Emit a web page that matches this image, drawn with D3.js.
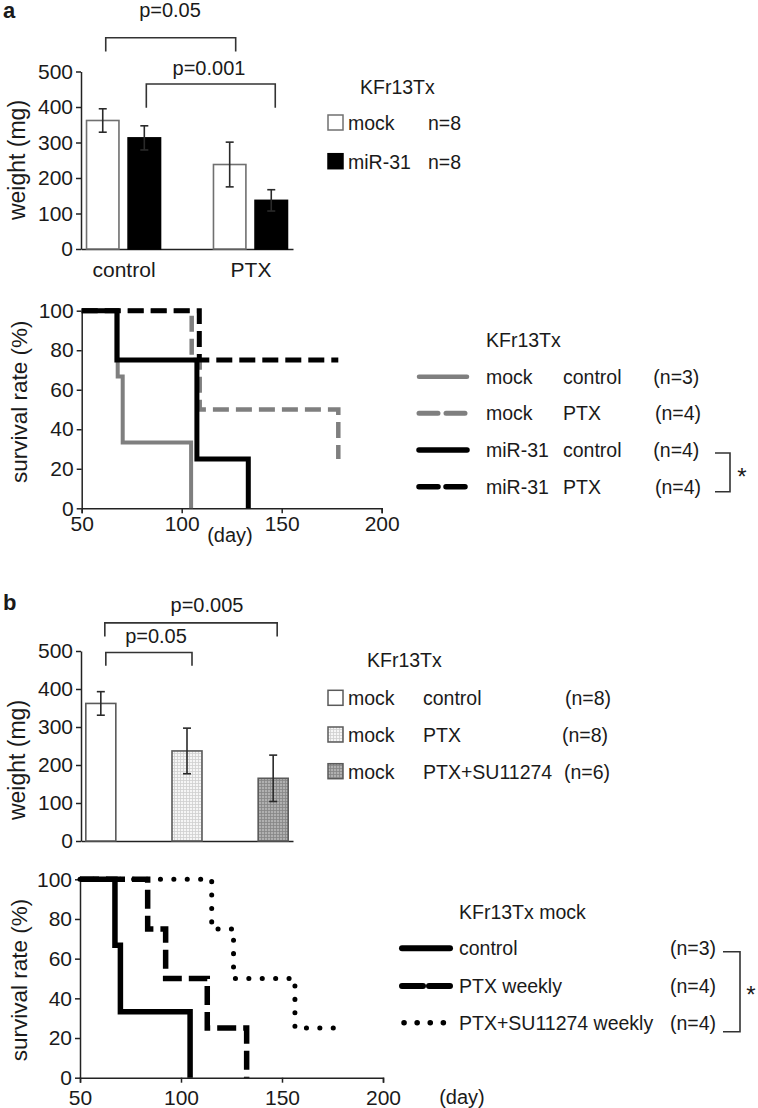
<!DOCTYPE html>
<html lang="en">
<head>
  <meta charset="UTF-8">
  <title>KFr13Tx weight and survival</title>
  <script src="https://cdnjs.cloudflare.com/ajax/libs/d3/7.8.5/d3.min.js"></script>
  <style>
    body { margin: 0; background: #fff; }
    svg text { font-family: "Liberation Sans", Arial, sans-serif; fill: #1a1a1a; }
    .axis path, .axis line { stroke: #222; stroke-width: 1.5; }
    .axis text { font-size: 21px; }
  </style>
</head>
<body>
  <div id="chart"></div>

  <script>
    // ---- data ----
    const weightTicks = [0, 100, 200, 300, 400, 500];
    const survivalTicks = [0, 20, 40, 60, 80, 100];
    const dayTicks = [50, 100, 150, 200];

    // panel a, tumour weight
    const aGroups = ["control", "PTX"];
    const aSeries = ["mock", "miR-31"];
    const aMock = [362, 238];
    const aMockErr = [33, 63];
    const aMir = [313, 137];
    const aMirErr = [34, 30];

    // panel a, survival (day, %)
    const aMockControl = [[50, 100], [68, 66.7], [70.5, 33.3], [104.7, 0]];
    const aMockPTX = [[50, 100], [105, 75], [109, 50], [178.3, 25]];
    const aMirControl = [[50, 100], [67.6, 75], [107.6, 25], [133.3, 0]];
    const aMirPTX = [[50, 100], [108.8, 75], [178.3, 75]];

    // panel b, tumour weight
    const bGroups = ["control", "PTX", "PTX+SU11274"];
    const bMeans = [362, 237, 165];
    const bErrs = [31, 60, 61];
    const bN = ["(n=8)", "(n=8)", "(n=6)"];

    // panel b, survival (day, %)
    const bControl = [[50, 100], [67.3, 66.7], [70, 33.3], [104.5, 0]];
    const bPTX = [[50, 100], [83.5, 75], [92.4, 50], [113, 25], [132.5, 0]];
    const bPTXSU = [[50, 100], [115.2, 75], [126, 50], [156.4, 25], [175.4, 25]];

    const W = 758, H = 1108;
    const svg = d3.select("#chart").append("svg")
      .attr("width", W).attr("height", H)
      .attr("viewBox", `0 0 ${W} ${H}`);

    // fine grid fills for panel b bars
    const defs = svg.append("defs");
    function gridPattern(id, bg, line) {
      const p = defs.append("pattern").attr("id", id)
        .attr("width", 3).attr("height", 3).attr("patternUnits", "userSpaceOnUse");
      p.append("rect").attr("width", 3).attr("height", 3).attr("fill", bg);
      p.append("path").attr("d", "M0,0.5H3M0.5,0V3").attr("stroke", line).attr("stroke-width", 0.8);
    }
    gridPattern("light", "#f6f6f6", "#cfcfcf");
    gridPattern("dark", "#b0b0b0", "#858585");
    const bFills = ["#fff", "url(#light)", "url(#dark)"];

    function text(x, y, s, size, anchor, weight) {
      return svg.append("text").attr("x", x).attr("y", y)
        .attr("font-size", size).attr("text-anchor", anchor || "start")
        .attr("font-weight", weight || "normal").text(s);
    }

    function yAxis(scale, x, ticks) {
      svg.append("g").attr("class", "axis").attr("transform", `translate(${x},0)`)
        .call(d3.axisLeft(scale).tickValues(ticks).tickSize(5).tickSizeOuter(0).tickPadding(3));
    }

    function yTitle(x, y, s, size) {
      svg.append("text").attr("transform", `translate(${x},${y}) rotate(-90)`)
        .attr("text-anchor", "middle").attr("dominant-baseline", "central")
        .attr("font-size", size).text(s);
    }

    function bracket(x0, x1, yTop, yLeg, stroke) {
      svg.append("path")
        .attr("d", `M${x0},${yLeg}V${yTop}H${x1}V${yLeg}`)
        .attr("fill", "none").attr("stroke", stroke || "#333").attr("stroke-width", 1.6);
    }

    function errorBar(x, yHi, yLo) {
      const g = svg.append("g").attr("stroke", "#2a2a2a").attr("stroke-width", 1.6);
      g.append("line").attr("x1", x).attr("x2", x).attr("y1", yHi).attr("y2", yLo);
      g.append("line").attr("x1", x - 4).attr("x2", x + 4).attr("y1", yHi).attr("y2", yHi);
      g.append("line").attr("x1", x - 4).attr("x2", x + 4).attr("y1", yLo).attr("y2", yLo);
    }

    // ================= panel a : bars =================
    text(3, 18, "a", 22, "start", "bold");

    const aY = d3.scaleLinear().domain([0, 500]).range([249, 71.5]);
    const aX = d3.scalePoint().domain(aGroups).range([81, 293]).padding(0.335);
    const aSub = d3.scaleBand().domain(aSeries).range([-37, 37]).paddingInner(0.22);

    yAxis(aY, 81, weightTicks);
    svg.append("g").attr("class", "axis").attr("transform", `translate(0,${aY(0)})`)
      .call(d3.axisBottom(aX).tickSize(0).tickPadding(13));
    yTitle(17, 160, "weight (mg)", 23);

    const aBars = [
      { s: "mock", v: aMock, e: aMockErr, fill: "#fff", stroke: "#707070" },
      { s: "miR-31", v: aMir, e: aMirErr, fill: "#000", stroke: "#000" }
    ];
    aBars.forEach(b => {
      aGroups.forEach((g, i) => {
        const x = aX(g) + aSub(b.s);
        svg.append("rect")
          .attr("x", x).attr("y", aY(b.v[i]))
          .attr("width", aSub.bandwidth()).attr("height", aY(0) - aY(b.v[i]))
          .attr("fill", b.fill).attr("stroke", b.stroke).attr("stroke-width", 1.6);
        errorBar(x + aSub.bandwidth() / 2, aY(b.v[i] + b.e[i]), aY(b.v[i] - b.e[i]));
      });
    });

    // significance brackets
    const aCx = (g, s) => aX(g) + aSub(s) + aSub.bandwidth() / 2;
    bracket(aCx("control", "mock") + 3, aCx("PTX", "mock") + 6, aY(595), aY(556));
    text(170, 17, "p=0.05", 20, "middle");
    bracket(aCx("control", "miR-31") + 2, aCx("PTX", "miR-31") + 4, aY(465), aY(398));
    text(209, 75, "p=0.001", 20, "middle");

    // legend
    text(360, 94, "KFr13Tx", 19.5);
    [["mock", "#fff", "#707070", 123], ["miR-31", "#000", "#000", 161.7]].forEach(r => {
      svg.append("rect").attr("x", 328).attr("y", r[3] - 8).attr("width", 15).attr("height", 15)
        .attr("fill", r[1]).attr("stroke", r[2]).attr("stroke-width", 1.5);
      text(348, r[3] + 7, r[0], 19.5);
      text(428, r[3] + 7, "n=8", 19.5);
    });

    // ================= panel a : survival =================
    const sAX = d3.scaleLinear().domain([50, 200]).range([81.7, 381.7]);
    const sAY = d3.scaleLinear().domain([0, 100]).range([508.3, 310.7]);

    yAxis(sAY, sAX(50), survivalTicks);
    svg.append("g").attr("class", "axis").attr("transform", `translate(0,${sAY(0)})`)
      .call(d3.axisBottom(sAX).tickValues(dayTicks).tickSize(5).tickSizeOuter(5).tickPadding(3));
    yTitle(19, 401.7, "survival rate (%)", 22.5);
    text(230, 542, "(day)", 20, "middle");

    const lineA = d3.line().x(d => sAX(d[0])).y(d => sAY(d[1])).curve(d3.curveStepAfter);
    const aCurves = [
      { d: aMockControl, color: "#7f7f7f", w: 4, dash: null, label: ["mock", "control", "(n=3)"], nx: 653.3 },
      { d: aMockPTX, color: "#7f7f7f", w: 4.5, dash: "16 7", label: ["mock", "PTX", "(n=4)"], nx: 655 },
      { d: aMirControl, color: "#000", w: 5, dash: null, label: ["miR-31", "control", "(n=4)"], nx: 653.3 },
      { d: aMirPTX, color: "#000", w: 5, dash: "16 7", label: ["miR-31", "PTX", "(n=4)"], nx: 655 }
    ];
    aCurves.forEach(c => {
      svg.append("path").datum(c.d).attr("d", lineA)
        .attr("fill", "none").attr("stroke", c.color).attr("stroke-width", c.w)
        .attr("stroke-dasharray", c.dash);
    });

    // legend
    text(486, 347, "KFr13Tx", 19.5);
    const aRowY = [376.7, 413.3, 450, 486.7];
    aCurves.forEach((c, i) => {
      const y = aRowY[i];
      svg.append("line").attr("x1", 419).attr("x2", 467).attr("y1", y).attr("y2", y)
        .attr("stroke", c.color).attr("stroke-width", c.w + 0.5)
        .attr("stroke-linecap", "round")
        .attr("stroke-dasharray", c.dash ? "19 8" : null);
      text(486, y + 7, c.label[0], 19.5);
      text(563, y + 7, c.label[1], 19.5);
      text(c.nx, y + 7, c.label[2], 19.5);
    });
    svg.append("path").attr("d", "M715,453H730V491.7H715")
      .attr("fill", "none").attr("stroke", "#333").attr("stroke-width", 1.6);
    text(742, 485, "*", 24, "middle");

    // ================= panel b : bars =================
    text(3, 610, "b", 22, "start", "bold");

    const bY = d3.scaleLinear().domain([0, 500]).range([841, 651]);
    const bX = d3.scalePoint().domain(bGroups).range([81, 293]).padding(0.23);
    const bW = 30;

    yAxis(bY, 81, weightTicks);
    svg.append("g").attr("class", "axis").attr("transform", `translate(0,${bY(0)})`)
      .call(d3.axisBottom(bX).tickSize(0).tickFormat(""));
    yTitle(17, 760, "weight (mg)", 23);

    bGroups.forEach((g, i) => {
      svg.append("rect")
        .attr("x", bX(g) - bW / 2).attr("y", bY(bMeans[i]))
        .attr("width", bW).attr("height", bY(0) - bY(bMeans[i]))
        .attr("fill", bFills[i]).attr("stroke", "#5a5a5a").attr("stroke-width", 1.6);
      errorBar(bX(g), bY(bMeans[i] + bErrs[i]), bY(bMeans[i] - bErrs[i]));
    });

    bracket(bX("control") + 4, bX("PTX+SU11274") + 4, bY(574), bY(538));
    text(207, 611.5, "p=0.005", 20, "middle");
    bracket(bX("control") + 5, bX("PTX") + 5, bY(496), bY(461));
    text(156, 642.5, "p=0.05", 20, "middle");

    // legend
    text(367, 667, "KFr13Tx", 19.5);
    const bRowY = [698.3, 735, 771.7];
    const bNx = [565, 562, 564];
    bGroups.forEach((g, i) => {
      const y = bRowY[i];
      svg.append("rect").attr("x", 328).attr("y", y - 8).attr("width", 15).attr("height", 15)
        .attr("fill", bFills[i]).attr("stroke", "#5a5a5a").attr("stroke-width", 1.5);
      text(348, y + 7, "mock", 19.5);
      text(423, y + 7, g, 19.5);
      text(bNx[i], y + 7, bN[i], 19.5);
    });

    // ================= panel b : survival =================
    const sBX = d3.scaleLinear().domain([50, 200]).range([80, 383]);
    const sBY = d3.scaleLinear().domain([0, 100]).range([1077.7, 879.3]);

    yAxis(sBY, sBX(50), survivalTicks);
    svg.append("g").attr("class", "axis").attr("transform", `translate(0,${sBY(0)})`)
      .call(d3.axisBottom(sBX).tickValues(dayTicks).tickSize(5).tickSizeOuter(5).tickPadding(7));
    yTitle(19, 980, "survival rate (%)", 22.5);
    text(462, 1104, "(day)", 20, "middle");

    const lineB = d3.line().x(d => sBX(d[0])).y(d => sBY(d[1])).curve(d3.curveStepAfter);
    const bCurves = [
      { d: bPTXSU, w: 5, dash: "0.1 13.3", cap: "round", label: "PTX+SU11274 weekly", n: "(n=4)", legDash: "0.1 13" },
      { d: bPTX, w: 5.5, dash: "19 7", cap: "butt", label: "PTX weekly", n: "(n=4)", legDash: "21 6" },
      { d: bControl, w: 5.5, dash: null, cap: "butt", label: "control", n: "(n=3)", legDash: null }
    ];
    bCurves.forEach(c => {
      svg.append("path").datum(c.d).attr("d", lineB)
        .attr("fill", "none").attr("stroke", "#000").attr("stroke-width", c.w)
        .attr("stroke-linecap", c.cap).attr("stroke-dasharray", c.dash);
    });

    // legend
    text(459, 918.7, "KFr13Tx mock", 19.5);
    const bLegRowY = [948.3, 986, 1022.7];
    bCurves.slice().reverse().forEach((c, i) => {
      const y = bLegRowY[i];
      svg.append("line").attr("x1", c.cap === "round" ? 404 : 402).attr("x2", 450)
        .attr("y1", y).attr("y2", y)
        .attr("stroke", "#000").attr("stroke-width", c.w + 0.5)
        .attr("stroke-linecap", "round").attr("stroke-dasharray", c.legDash);
      text(459, y + 7, c.label, 19.5);
      text(670, y + 7, c.n, 19.5);
    });
    svg.append("path").attr("d", "M723,951.7H740V1031.7H723")
      .attr("fill", "none").attr("stroke", "#333").attr("stroke-width", 1.6);
    text(751, 1003, "*", 24, "middle");
  </script>
</body>
</html>
